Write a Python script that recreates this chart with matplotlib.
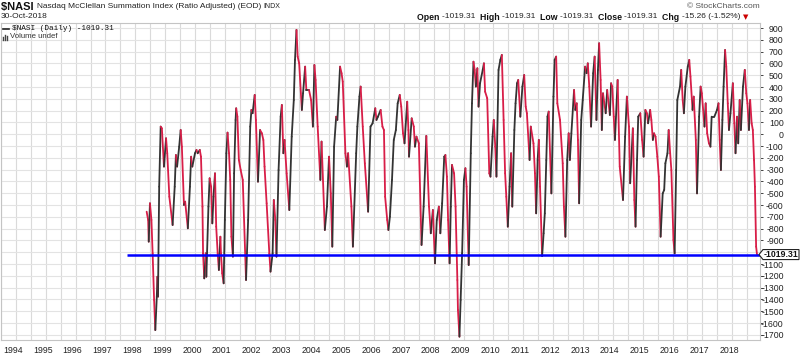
import numpy as np
import matplotlib.pyplot as plt
from matplotlib.collections import LineCollection
from matplotlib.patches import Polygon
from matplotlib.lines import Line2D

plt.rcParams['font.family'] = ['Liberation Sans', 'DejaVu Sans']
plt.rcParams['axes.unicode_minus'] = False

# $NASI daily (decimal year, value)
dates = [
    1998.38, 1998.43, 1998.45, 1998.49, 1998.54, 1998.58, 1998.63, 1998.67, 1998.72, 1998.74,
    1998.76, 1998.80, 1998.85, 1998.89, 1998.96, 1999.03, 1999.07, 1999.14, 1999.25, 1999.32,
    1999.36, 1999.40, 1999.47, 1999.52, 1999.56, 1999.63, 1999.67, 1999.76, 1999.83, 1999.87,
    1999.91, 2000.00, 2000.05, 2000.09, 2000.16, 2000.20, 2000.25, 2000.27, 2000.31, 2000.36,
    2000.38, 2000.45, 2000.49, 2000.54, 2000.58, 2000.62, 2000.67, 2000.71, 2000.76, 2000.80,
    2000.85, 2000.87, 2000.91, 2000.96, 2001.00, 2001.05, 2001.09, 2001.14, 2001.18, 2001.22,
    2001.27, 2001.31, 2001.36, 2001.38, 2001.42, 2001.47, 2001.53, 2001.60, 2001.71, 2001.78,
    2001.85, 2001.89, 2001.93, 2002.00, 2002.04, 2002.11, 2002.18, 2002.24, 2002.29, 2002.33,
    2002.40, 2002.49, 2002.53, 2002.60, 2002.64, 2002.69, 2002.73, 2002.80, 2002.87, 2002.91,
    2002.96, 2003.00, 2003.07, 2003.16, 2003.24, 2003.31, 2003.35, 2003.40, 2003.44, 2003.49,
    2003.58, 2003.62, 2003.69, 2003.73, 2003.82, 2003.89, 2003.95, 2004.00, 2004.04, 2004.11,
    2004.20, 2004.24, 2004.35, 2004.42, 2004.49, 2004.55, 2004.60, 2004.66, 2004.73, 2004.77,
    2004.86, 2004.91, 2004.95, 2005.04, 2005.09, 2005.13, 2005.24, 2005.29, 2005.40, 2005.44,
    2005.51, 2005.55, 2005.62, 2005.69, 2005.80, 2005.88, 2005.95, 2006.04, 2006.08, 2006.13,
    2006.22, 2006.28, 2006.33, 2006.37, 2006.44, 2006.48, 2006.53, 2006.60, 2006.66, 2006.73,
    2006.79, 2006.86, 2006.91, 2006.97, 2007.02, 2007.11, 2007.15, 2007.17, 2007.26, 2007.33,
    2007.37, 2007.42, 2007.50, 2007.59, 2007.66, 2007.75, 2007.84, 2007.90, 2007.97, 2008.04,
    2008.10, 2008.17, 2008.22, 2008.28, 2008.35, 2008.39, 2008.44, 2008.48, 2008.53, 2008.57,
    2008.61, 2008.68, 2008.73, 2008.79, 2008.81, 2008.86, 2008.90, 2008.95, 2009.01, 2009.06,
    2009.10, 2009.17, 2009.24, 2009.28, 2009.33, 2009.37, 2009.41, 2009.46, 2009.50, 2009.55,
    2009.64, 2009.68, 2009.72, 2009.79, 2009.86, 2009.90, 2009.97, 2010.01, 2010.06, 2010.10,
    2010.17, 2010.23, 2010.28, 2010.34, 2010.39, 2010.43, 2010.48, 2010.54, 2010.59, 2010.63,
    2010.70, 2010.74, 2010.79, 2010.83, 2010.90, 2010.97, 2011.03, 2011.08, 2011.12, 2011.21,
    2011.25, 2011.34, 2011.39, 2011.43, 2011.48, 2011.52, 2011.56, 2011.63, 2011.68, 2011.72,
    2011.77, 2011.81, 2011.85, 2011.94, 2012.01, 2012.05, 2012.10, 2012.14, 2012.23, 2012.32,
    2012.36, 2012.41, 2012.47, 2012.52, 2012.56, 2012.61, 2012.70, 2012.74, 2012.79, 2012.83,
    2012.87, 2012.94, 2012.99, 2013.07, 2013.12, 2013.16, 2013.21, 2013.27, 2013.34, 2013.39,
    2013.45, 2013.50, 2013.54, 2013.59, 2013.63, 2013.67, 2013.76, 2013.81, 2013.90, 2013.94,
    2013.98, 2014.03, 2014.07, 2014.16, 2014.23, 2014.34, 2014.41, 2014.47, 2014.54, 2014.58,
    2014.67, 2014.72, 2014.76, 2014.81, 2014.85, 2014.92, 2014.98, 2015.03, 2015.09, 2015.14,
    2015.18, 2015.25, 2015.29, 2015.34, 2015.38, 2015.43, 2015.49, 2015.54, 2015.60, 2015.67,
    2015.72, 2015.76, 2015.83, 2015.87, 2015.92, 2015.96, 2016.03, 2016.07, 2016.12, 2016.16,
    2016.25, 2016.29, 2016.34, 2016.38, 2016.43, 2016.51, 2016.56, 2016.60, 2016.67, 2016.71,
    2016.78, 2016.82, 2016.89, 2016.94, 2016.98, 2017.07, 2017.11, 2017.16, 2017.22, 2017.27,
    2017.31, 2017.40, 2017.49, 2017.54, 2017.58, 2017.62, 2017.67, 2017.71, 2017.76, 2017.80,
    2017.85, 2017.89, 2017.94, 2018.02, 2018.07, 2018.11, 2018.16, 2018.20, 2018.25, 2018.29,
    2018.36, 2018.42, 2018.47, 2018.51, 2018.56, 2018.60, 2018.65, 2018.69, 2018.73, 2018.76,
    2018.80, 2018.83,
]
values = [
    -656, -726, -910, -585, -726, -1009, -1404, -1659, -1376, -1207,
    -1376, -444, 65, 50, -274, -34, -161, -529, -769, -444,
    -176, -274, -105, 36, -105, -599, -571, -797, -444, -190,
    -274, -161, -133, -161, -133, -190, -613, -1009, -1221, -1009,
    -1207, -613, -373, -444, -755, -529, -331, -783, -1009, -1150,
    -868, -1009, -1178, -1263, -726, -161, 14, -161, -387, -868,
    -1037, -331, 121, 220, 149, -218, -303, -387, -1235, -726,
    65, 206, 178, 333, 121, -402, 36, 8, -48, -274,
    -585, -1009, -1164, -1009, -557, -726, -1037, -303, 149, 248,
    -161, -48, -331, -642, -20, 290, 630, 884, 658, 601,
    206, 347, 573, 375, 375, 290, 65, 587, 460, 65,
    -387, -62, -811, -613, -190, -501, -952, -105, 149, 121,
    573, 517, 446, -161, -274, -161, -613, -952, -161, 65,
    319, 404, 65, -246, -656, 65, 93, 220, 121, 149,
    206, 65, 36, -529, -726, -811, -698, -387, -48, 36,
    262, 333, 234, 8, -77, 276, 36, -190, 135, 65,
    -105, -20, -77, -938, -613, -14, -613, -839, -642, -1094,
    -726, -613, -839, -585, -190, -176, -359, -726, -1094, -613,
    -260, -331, -613, -1235, -1489, -1715, -1404, -1009, -387, -288,
    -444, -1108, -161, 262, 615, 545, 404, 559, 234, 432,
    545, 601, 361, 305, -331, -359, -20, 121, -105, -359,
    545, 630, 672, 121, -331, -529, -783, -444, -161, -613,
    36, 262, 432, 460, 149, 404, 502, 234, 178, -218,
    65, -77, -331, -670, -218, -48, -444, -1032, -839, -670,
    -218, 149, 192, -501, 319, 630, 658, 262, 121, -246,
    -613, -868, -218, 8, -218, 8, 375, 206, 262, -48,
    -585, 121, 290, 573, 517, 601, 404, 65, 517, 658,
    121, 545, 771, 460, 36, 347, 178, 375, 163, 432,
    404, 149, -48, 460, -274, -557, -20, 319, 65, -415,
    50, -557, -783, -218, 149, 178, -48, -190, 206, 178,
    93, 206, 121, -48, 8, -20, -190, -359, -868, -501,
    -472, -246, -161, 36, -161, -303, -896, -1009, -303, 290,
    404, 545, 290, 178, 404, 573, 630, 488, 206, 319,
    -48, -501, 149, 404, 347, 65, 262, 8, -77, -105,
    149, 149, 206, 262, -48, -303, 121, 404, 714, 573,
    262, 36, 178, 432, 93, -161, 149, -77, 290, 36,
    404, 545, 347, 262, 36, 290, 93, 36, -218, -444,
    -952, -1019.31,
]

last_value = -1019.31
support_start = 1997.73
years = list(range(1994, 2019))
yticks = list(range(-1700, 1000, 100))

fig = plt.figure(figsize=(8, 3.56), dpi=100)
ax = fig.add_axes([0.00125, 0.045, 0.94875, 0.8905])
ax.set_xlim(1993.67, 2018.93)
ax.set_ylim(-1743, 943)

# grid: half-year verticals, 100-step horizontals
ax.set_xticks(np.arange(1993.5, 2019, 0.5), minor=True)
ax.set_xticks([y - 0.1 for y in years], labels=[str(y) for y in years])
ax.grid(which='minor', axis='x', color='#dadada', lw=0.8)
ax.tick_params(axis='x', which='both', length=0, pad=4, labelsize=6.3, colors='#222222')

ax.yaxis.tick_right()
# the -1000 label sits under the last-value tag
ax.set_yticks(yticks, labels=['' if v == -1000 else str(v) for v in yticks])
for lbl in ax.get_yticklabels():
    lbl.set_horizontalalignment('right')
ax.tick_params(axis='y', length=2, width=0.6, pad=15, labelsize=6.3, colors='#222222')
ax.grid(which='major', axis='y', color='#e3e3e3', lw=0.8)
for s in ax.spines.values():
    s.set_color('#c4c4c4')
    s.set_linewidth(0.8)

# up days black, down days red
pts = np.column_stack([dates, values])
segs = np.stack([pts[:-1], pts[1:]], axis=1)
cols = ['#333333' if b >= a else '#d81e48' for a, b in zip(values[:-1], values[1:])]
ax.add_collection(LineCollection(segs, colors=cols, linewidths=1.3,
                                 capstyle='round', joinstyle='round', zorder=2))

ax.hlines(last_value, support_start, 2018.93, color='#0000ff', lw=1.8, zorder=3)

# last value tag on the right axis
yt = ax.get_yaxis_transform()
px = 1 / 759
du = 2686 / 317
tag = Polygon([(1 - px, last_value), (1 + 3 * px, last_value + 5 * du),
               (1 + 39 * px, last_value + 5 * du), (1 + 39 * px, last_value - 5 * du),
               (1 + 3 * px, last_value - 5 * du)],
              closed=True, transform=yt, clip_on=False, facecolor='white',
              edgecolor='#222222', lw=0.8, zorder=5)
ax.add_patch(tag)
ax.text(1 + 21 * px, last_value, '-1019.31', transform=yt, ha='center', va='center',
        fontsize=6.3, fontweight='bold', color='#111111', zorder=6, clip_on=False)


def run_text(x, y, parts):
    r = fig.canvas.get_renderer()
    for s, kw in parts:
        t = fig.text(x / 800, 1 - y / 356, s, ha='left', va='center', **kw)
        x += t.get_window_extent(renderer=r).width
    return x


run_text(1, 7, [('\\$NASI ', dict(fontsize=8, fontweight='bold', color='#111111')),
                ('Nasdaq McClellan Summation Index (Ratio Adjusted) (EOD) ',
                 dict(fontsize=6, color='#222222')),
                ('INDX', dict(fontsize=5, color='#222222'))])
fig.text(1 / 800, 1 - 17 / 356, '30-Oct-2018', fontsize=6, color='#222222', va='center')
fig.text(760 / 800, 1 - 6 / 356, '\u00a9 StockCharts.com', fontsize=6, color='#555555',
         ha='right', va='center')

bold = dict(fontsize=6.3, fontweight='bold', color='#111111')
norm = dict(fontsize=6, color='#222222')
run_text(417, 17, [('Open ', bold), ('-1019.31  ', norm), ('High ', bold), ('-1019.31  ', norm),
                   ('Low ', bold), ('-1019.31  ', norm), ('Close ', bold), ('-1019.31  ', norm),
                   ('Chg ', bold), ('-15.26 (-1.52%) ', norm),
                   ('\u25bc', dict(fontsize=5, color='#cc0000', family='DejaVu Sans'))])

# legend block
fig.add_artist(Line2D([3 / 800, 9 / 800], [1 - 29 / 356] * 2, color='#222222', lw=1.2))
fig.text(12 / 800, 1 - 29 / 356, '\\$NASI (Daily) -1019.31', fontsize=5.6,
         family='Liberation Mono', color='#111111', va='center')
for i, h in enumerate([3, 5, 4]):
    fig.add_artist(Line2D([(3 + i * 2) / 800] * 2, [1 - 40 / 356, 1 - (40 - h) / 356],
                          color='#444444', lw=1))
fig.text(10 / 800, 1 - 37 / 356, 'Volume undef', fontsize=5.6, color='#333333', va='center')

fig.savefig('out.png', dpi=100)
